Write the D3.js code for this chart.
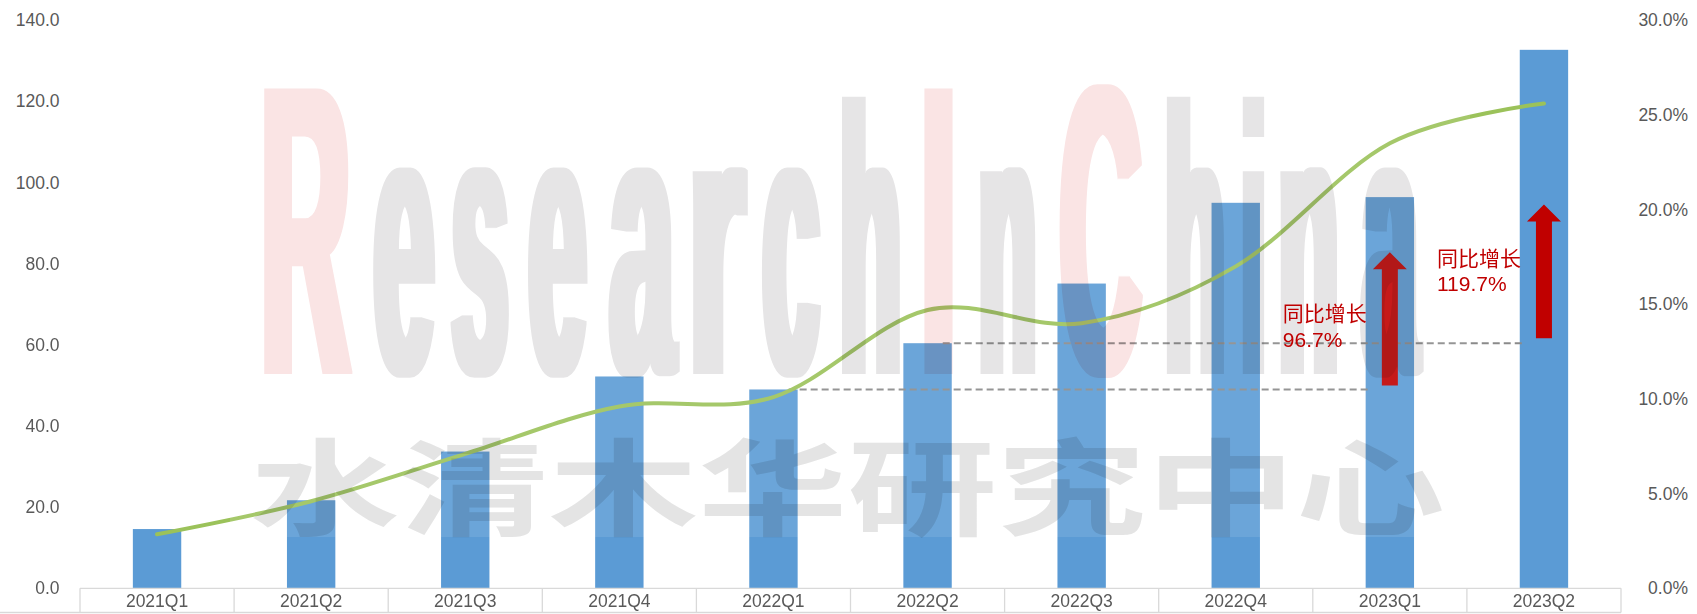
<!DOCTYPE html>
<html>
<head>
<meta charset="utf-8">
<script src="https://cdn.jsdelivr.net/npm/d3@7"></script>
<style>
  html, body { margin: 0; padding: 0; background: #ffffff; }
  svg { display: block; }
</style>
</head>
<body>
<div id="chart"></div>
<script>
// ---------- data ----------
const categories = ['2021Q1','2021Q2','2021Q3','2021Q4','2022Q1','2022Q2','2022Q3','2022Q4','2023Q1','2023Q2'];
const salesValues = [14.6, 21.7, 33.7, 52.2, 49.0, 60.4, 75.1, 95.0, 96.4, 132.7];
const shareValues = [2.85, 4.6, 7.1, 9.6, 10.1, 14.7, 14.0, 17.0, 23.5, 25.6];
const leftTicks = [0, 20, 40, 60, 80, 100, 120, 140];
const rightTicks = [0, 5, 10, 15, 20, 25, 30];

// year-on-year annotations
const growthBase = ['2022Q1', '2022Q2'];
const growthTarget = ['2023Q1', '2023Q2'];
const growthText = ['96.7%', '119.7%'];
const growthCaption = '同比增长';
const arrowFrom = [50.0, 61.6];
const arrowTo = [82.8, 94.6];
const labelAt = [65.8, 79.5];

// watermark
const watermarkEn = 'ResearchInChina';
const watermarkPink = [0, 8, 10];
const watermarkCn = '水清木华研究中心';
// horizontal extent of each watermark letter (layout, not data)
const wmBoxes = [[259,352],[372,436],[450,510],[527,588],[608,676],[686,747],[761,821],[838,903],
                 [919,958],[977,1038],[1058,1143],[1163,1227],[1240,1267],[1277,1340],[1360,1420]];

// ---------- layout ----------
const W = 1697, H = 614;
const x0 = 80, x1 = 1621;
const yBottom = 588.3, yTop = 20.2;

const svg = d3.select('#chart').append('svg')
  .attr('width', W).attr('height', H)
  .attr('viewBox', `0 0 ${W} ${H}`);
svg.append('rect').attr('width', W).attr('height', H).attr('fill', '#ffffff');

const x = d3.scaleBand().domain(categories).range([x0, x1]).padding(0);
const yL = d3.scaleLinear().domain([0, 140]).range([yBottom, yTop]);
const yR = d3.scaleLinear().domain([0, 30]).range([yBottom, yTop]);
const bw = x.bandwidth();
const barW = bw * 0.314;
const cx = c => x(c) + bw / 2;

const defs = svg.append('defs');
const filt = defs.append('filter').attr('id', 'thicken')
  .attr('filterUnits', 'userSpaceOnUse')
  .attr('x', 150).attr('y', 30).attr('width', 1400).attr('height', 420);
filt.append('feMorphology').attr('operator', 'dilate').attr('radius', '5 0.5');

const font = '"Liberation Sans", Arial, "Noto Sans CJK SC", sans-serif';

// ---------- bars ----------
svg.append('g').selectAll('rect').data(categories).join('rect')
  .attr('x', (d) => cx(d) - barW / 2)
  .attr('width', barW)
  .attr('y', (d, i) => yL(salesValues[i]))
  .attr('height', (d, i) => yL(0) - yL(salesValues[i]))
  .attr('fill', '#5B9BD5');

// ---------- dashed reference lines ----------
const dash = svg.append('g');
growthBase.forEach((b, i) => {
  const v = salesValues[categories.indexOf(b)];
  dash.append('line')
    .attr('x1', cx(b) + barW / 2 - 9)
    .attr('x2', cx(growthTarget[i]) - barW / 2 + 5)
    .attr('y1', yL(v)).attr('y2', yL(v))
    .attr('stroke', '#8a8a8a').attr('stroke-width', 2)
    .attr('stroke-dasharray', '7,4');
});

// ---------- line ----------
const line = d3.line()
  .x((d, i) => cx(categories[i]))
  .y(d => yR(d))
  .curve(d3.curveCardinal.tension(0));
svg.append('path').datum(shareValues)
  .attr('d', line)
  .attr('fill', 'none')
  .attr('stroke', '#9BC25A')
  .attr('stroke-width', 4)
  .attr('stroke-linecap', 'round');

// ---------- arrows ----------
const arrows = svg.append('g');
growthTarget.forEach((c, i) => {
  const xc = cx(c);
  const yb = yL(arrowFrom[i]), yt = yL(arrowTo[i]);
  const sw = 8, hw = 17, hl = 17;
  const pts = [
    [xc - sw, yb], [xc - sw, yt + hl], [xc - hw, yt + hl], [xc, yt],
    [xc + hw, yt + hl], [xc + sw, yt + hl], [xc + sw, yb]
  ];
  arrows.append('path')
    .attr('d', 'M' + pts.map(p => p.join(',')).join('L') + 'Z')
    .attr('fill', '#C00000');
});

// ---------- watermark ----------
svg.append('rect')
  .attr('x', 230).attr('y', 40).attr('width', 1240).attr('height', 497)
  .attr('fill', '#ffffff').attr('opacity', 0.1);

const wm = svg.append('g').style('mix-blend-mode', 'multiply');
const wmEn = wm.append('g').attr('filter', 'url(#thicken)')
  .attr('font-family', '"Liberation Sans", Arial, sans-serif')
  .attr('font-weight', 'bold');
watermarkEn.split('').forEach((ch, i) => {
  const [l, r] = wmBoxes[i];
  const upper = ch === ch.toUpperCase();
  const t = wmEn.append('text')
    .attr('x', 0).attr('y', 0)
    .attr('font-size', upper ? 412 : 380)
    .attr('fill', watermarkPink.includes(i) ? '#FAE4E4' : '#E6E5E6')
    .text(ch);
  const natural = t.node().getComputedTextLength() || 1;
  const sx = (r - l - 4) / natural;
  t.attr('transform', `translate(${l + 2},373) scale(${sx},1)`);
});

wm.append('text')
  .attr('x', 250).attr('y', 527)
  .attr('font-family', '"Noto Sans CJK SC", sans-serif')
  .attr('font-weight', 'bold')
  .attr('font-size', 105)
  .attr('textLength', 1195)
  .attr('lengthAdjust', 'spacingAndGlyphs')
  .attr('fill', '#E4E4E4')
  .text(watermarkCn);

// ---------- growth labels ----------
const lab = svg.append('g').attr('font-family', font).attr('fill', '#C00000').attr('font-size', 21);
growthTarget.forEach((c, i) => {
  const xl = cx(c) - 107;
  const yb = yL(labelAt[i]);
  lab.append('text').attr('x', xl).attr('y', yb).text(growthCaption);
  lab.append('text').attr('x', xl).attr('y', yb + 25.5).text(growthText[i]);
});

// ---------- category axis box ----------
const axisG = svg.append('g').attr('stroke', '#D9D9D9').attr('stroke-width', 1.3).attr('fill', 'none');
axisG.append('line').attr('x1', x0).attr('x2', x1).attr('y1', yBottom).attr('y2', yBottom);
axisG.append('line').attr('x1', 0).attr('x2', x1).attr('y1', 612.5).attr('y2', 612.5);
const bounds = categories.map(c => x(c)).concat([x1]);
axisG.selectAll('line.sep').data(bounds).join('line').attr('class', 'sep')
  .attr('x1', d => d).attr('x2', d => d)
  .attr('y1', yBottom).attr('y2', 612.5);

svg.append('g').attr('font-family', font).attr('font-size', 17.5).attr('fill', '#595959')
  .attr('text-anchor', 'middle')
  .selectAll('text').data(categories).join('text')
  .attr('x', d => cx(d)).attr('y', 607.3)
  .text(d => d);

// ---------- value axes (labels only) ----------
const leftAxis = d3.axisLeft(yL).tickValues(leftTicks).tickFormat(d3.format('.1f')).tickSize(0).tickPadding(0);
const gl = svg.append('g').attr('transform', 'translate(59.5,0)').call(leftAxis);
gl.select('.domain').remove();
gl.selectAll('text').attr('font-family', font).attr('font-size', 17.5).attr('fill', '#595959');

const rightAxis = d3.axisLeft(yR).tickValues(rightTicks).tickFormat(d => d3.format('.1f')(d) + '%').tickSize(0).tickPadding(0);
const gr = svg.append('g').attr('transform', 'translate(1688,0)').call(rightAxis);
gr.select('.domain').remove();
gr.selectAll('text').attr('font-family', font).attr('font-size', 17.5).attr('fill', '#595959');
</script>
</body>
</html>
